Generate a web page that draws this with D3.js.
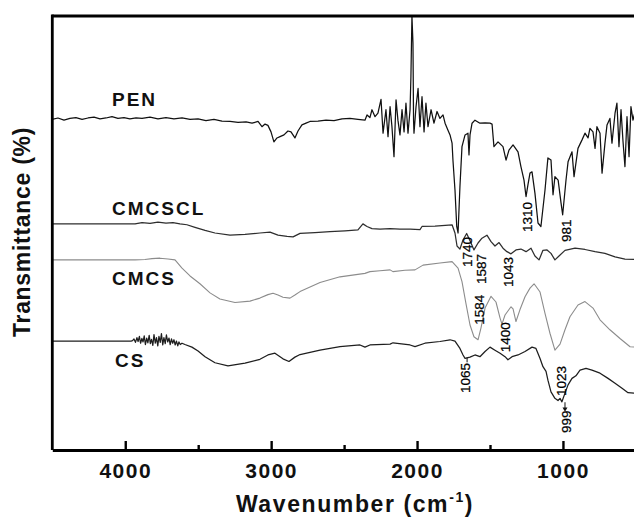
<!DOCTYPE html>
<html>
<head>
<meta charset="utf-8">
<script src="https://cdn.jsdelivr.net/npm/d3@7"></script>
<style>
body { margin: 0; background: #fff; }
svg { display: block; }
</style>
</head>
<body>
<svg id="drawing_region" width="634" height="517"></svg>
<script>
// spectra: [wavenumber, transmittance]
const pen = [[4502,76.2],[4461,76.5],[4420,76.0],[4379,76.4],[4338,76.6],[4296,76.2],[4255,76.5],[4214,76.7],[4173,76.3],[4132,76.5],[4091,76.8],[4050,76.4],[4009,76.6],[3968,76.3],[3926,76.5],[3885,76.4],[3830,76.7],[3776,76.3],[3721,76.6],[3666,76.3],[3611,76.5],[3556,76.2],[3501,76.3],[3447,75.9],[3392,76.2],[3337,75.8],[3282,75.7],[3227,75.5],[3172,75.6],[3131,75.3],[3090,75.7],[3063,74.5],[3042,75.1],[3022,74.8],[3001,73.3],[2981,71.0],[2960,71.9],[2939,72.2],[2912,72.6],[2885,73.5],[2864,73.3],[2837,71.9],[2816,73.5],[2789,74.9],[2761,75.3],[2734,75.7],[2679,75.8],[2624,76.0],[2569,75.9],[2514,76.3],[2460,76.4],[2405,76.2],[2357,76.0],[2343,77.2],[2323,76.6],[2309,78.4],[2288,76.8],[2268,77.6],[2247,80.8],[2233,73.0],[2213,78.4],[2199,72.2],[2185,79.1],[2172,74.5],[2158,67.6],[2144,80.7],[2131,76.0],[2117,72.6],[2103,78.4],[2089,73.3],[2076,79.9],[2062,73.0],[2048,78.4],[2042,86.0],[2035,100],[2028,93.8],[2024,76.0],[2021,73.0],[2007,79.1],[1993,83.3],[1980,74.5],[1966,81.4],[1952,73.3],[1939,79.9],[1925,74.5],[1904,78.4],[1884,75.3],[1863,78.0],[1843,76.4],[1822,77.2],[1808,75.3],[1788,73.7],[1774,72.6],[1760,70.7],[1754,66.8],[1740,59.9],[1728,51.5],[1719,50.0],[1706,60.7],[1692,69.9],[1671,72.6],[1651,73.0],[1644,68.0],[1637,72.6],[1623,75.3],[1603,76.0],[1569,75.3],[1534,75.4],[1500,75.3],[1486,75.1],[1473,69.9],[1445,71.0],[1411,69.9],[1390,66.8],[1370,69.1],[1342,70.3],[1308,68.7],[1288,65.3],[1267,62.2],[1253,58.4],[1240,61.1],[1226,63.8],[1212,64.1],[1192,59.2],[1171,52.3],[1151,51.5],[1123,59.9],[1103,67.3],[1082,66.8],[1068,58.8],[1055,63.0],[1033,62.2],[1013,56.9],[1002,54.2],[979,62.2],[965,66.4],[938,68.7],[924,63.0],[897,69.5],[870,71.4],[849,73.0],[828,71.9],[815,74.1],[794,73.3],[780,69.5],[767,74.5],[746,73.0],[732,63.8],[712,70.7],[698,74.9],[678,76.4],[664,70.7],[643,77.6],[630,79.9],[616,69.9],[602,78.4],[589,71.4],[575,65.3],[561,76.8],[547,67.6],[534,79.1],[520,76.0],[506,77.9]];

const cmcscl = [[4502,52.1],[4242,52.1],[3933,52.1],[3885,52.4],[3830,52.2],[3776,52.5],[3721,52.3],[3673,52.4],[3625,52.1],[3577,51.9],[3522,51.3],[3453,50.6],[3385,50.0],[3282,49.5],[3179,49.7],[3077,50.0],[3008,50.2],[2953,49.5],[2891,49.2],[2850,49.1],[2802,49.9],[2700,50.1],[2597,50.3],[2494,50.5],[2405,50.7],[2371,52.1],[2343,51.5],[2309,51.0],[2254,50.9],[2185,51.0],[2117,50.9],[2048,50.9],[1980,50.8],[1966,51.5],[1877,51.6],[1760,51.9],[1740,50.0],[1726,47.0],[1706,46.3],[1685,48.4],[1660,49.9],[1630,47.7],[1610,46.1],[1582,47.7],[1555,48.8],[1521,49.5],[1493,48.0],[1466,47.0],[1438,47.8],[1411,46.5],[1384,45.7],[1356,45.2],[1322,46.1],[1288,46.3],[1253,45.7],[1219,46.5],[1192,44.7],[1164,43.8],[1137,46.0],[1109,46.1],[1082,45.3],[1055,43.8],[1027,44.7],[986,46.0],[917,46.5],[849,46.2],[780,45.7],[712,45.3],[643,44.5],[575,44.0],[506,43.9]];

const cmcs = [[4502,43.8],[4173,43.8],[3933,43.8],[3865,43.9],[3817,44.1],[3762,44.2],[3707,44.0],[3659,43.8],[3611,41.9],[3556,40.1],[3488,38.3],[3419,36.2],[3351,34.8],[3248,34.0],[3145,34.3],[3077,35.0],[3022,35.8],[2987,36.1],[2953,35.7],[2919,35.2],[2871,35.0],[2837,35.7],[2802,36.5],[2665,38.6],[2528,39.9],[2357,40.7],[2323,41.1],[2254,41.3],[2185,41.5],[2165,41.1],[2083,41.4],[2014,41.5],[1959,42.6],[1843,43.1],[1760,43.4],[1719,41.9],[1692,38.8],[1665,33.8],[1637,28.8],[1610,26.1],[1582,25.4],[1562,28.1],[1534,32.7],[1493,35.4],[1459,34.1],[1431,30.4],[1418,29.0],[1397,31.1],[1356,33.0],[1342,32.5],[1322,29.6],[1295,32.3],[1260,35.3],[1226,37.3],[1198,38.3],[1157,36.4],[1123,31.5],[1089,26.9],[1055,23.0],[1020,24.4],[986,27.7],[952,30.7],[897,33.4],[849,34.2],[794,32.7],[746,30.0],[678,27.7],[609,25.7],[540,23.8],[506,23.7]];

const cs = [[4502,25.1],[4242,25.1],[4036,25.1],[3960,25.1],[3950,25.2],[3940,25.6],[3930,24.8],[3920,25.9],[3912,25.0],[3903,26.2],[3895,24.6],[3886,25.7],[3878,24.9],[3870,26.3],[3862,24.3],[3853,25.8],[3845,24.7],[3836,26.4],[3828,24.5],[3820,25.5],[3811,24.1],[3803,26.6],[3794,24.6],[3786,25.9],[3777,24.0],[3769,26.2],[3760,24.8],[3752,26.8],[3743,24.2],[3735,25.9],[3726,24.5],[3718,26.5],[3709,24.9],[3700,25.8],[3692,24.3],[3683,25.6],[3675,24.6],[3666,25.4],[3658,24.2],[3649,25.1],[3640,24.0],[3632,24.9],[3623,24.3],[3611,24.6],[3591,24.3],[3543,23.7],[3501,22.8],[3453,21.5],[3385,20.1],[3296,19.4],[3179,20.0],[3077,20.9],[3022,21.9],[2974,22.3],[2919,21.0],[2878,20.4],[2837,21.4],[2802,22.0],[2665,23.0],[2528,23.8],[2391,24.2],[2357,23.7],[2323,24.2],[2185,24.4],[2165,24.7],[2048,24.2],[2014,23.8],[1946,24.6],[1843,25.0],[1774,25.4],[1740,25.1],[1706,23.4],[1685,21.9],[1671,21.1],[1637,21.4],[1603,21.9],[1569,21.5],[1534,22.7],[1500,23.7],[1466,23.0],[1431,22.3],[1397,21.5],[1377,20.8],[1349,21.5],[1308,21.9],[1260,22.7],[1212,23.7],[1185,23.4],[1157,21.1],[1137,19.2],[1116,18.1],[1103,16.1],[1082,13.4],[1055,11.9],[1034,11.4],[1020,11.9],[1007,11.1],[986,13.1],[965,15.0],[938,16.5],[911,17.1],[883,18.4],[842,18.8],[801,18.4],[746,17.7],[691,16.5],[643,15.4],[595,14.2],[554,13.2],[506,13.1]];

const seriesNames = ["PEN", "CMCSCL", "CMCS", "CS"];
const seriesData = [pen, cmcscl, cmcs, cs];
const seriesColors = ["#111", "#2e2e2e", "#8c8c8c", "#1e1e1e"];
// where each name is written: [wavenumber, transmittance of the baseline]
const nameAnchors = [[4091, 79.3], [4091, 54.2], [4091, 38.0], [4070, 19.1]];

const majorTicks = [4000, 3000, 2000, 1000];
const minorTicks = [3500, 2500, 1500];

// peak labels: text, wavenumber and transmittance of the label centre
const peakLabels = ["1310", "981", "1740", "1587", "1043", "1584", "1400", "1065", "1023", "999"];
const peakX = [1246, 979, 1654, 1555, 1370, 1569, 1397, 1671, 1007, 979];
const peakY = [53.7, 50.5, 45.6, 41.7, 41.0, 32.3, 26.0, 16.6, 15.9, 6.5];

const width = 634, height = 517;
const margin = { top: 16, left: 52.3, bottom: 450 };

const svg = d3.select("#drawing_region");

const x = d3.scaleLinear().domain([4500, 500]).range([margin.left, 635.9]);
const y = d3.scaleLinear().domain([0, 100]).range([margin.bottom, margin.top]);

svg.append("clipPath").attr("id", "plot_clip")
    .append("rect")
    .attr("x", margin.left).attr("y", margin.top)
    .attr("width", width - margin.left).attr("height", margin.bottom - margin.top);

const line = d3.line().x(d => x(d[0])).y(d => y(d[1]));

const plot = svg.append("g").attr("clip-path", "url(#plot_clip)");
plot.selectAll("path")
    .data(seriesData)
    .join("path")
    .attr("d", line)
    .attr("fill", "none")
    .attr("stroke", (d, i) => seriesColors[i])
    .attr("stroke-width", (d, i) => i == 2 ? 1.1 : 1.25)
    .attr("stroke-linejoin", "round");

// series names
svg.selectAll(".sname")
    .data(seriesNames)
    .join("text")
    .attr("class", "sname")
    .attr("x", (d, i) => x(nameAnchors[i][0]))
    .attr("y", (d, i) => y(nameAnchors[i][1]))
    .attr("font-family", "Liberation Sans, Arial, sans-serif")
    .attr("font-weight", "bold")
    .attr("font-size", 19)
    .attr("letter-spacing", 2)
    .attr("fill", "#111")
    .text(d => d);

// peak labels, written vertically
svg.selectAll(".peak")
    .data(peakLabels)
    .join("text")
    .attr("class", "peak")
    .attr("transform", (d, i) => `translate(${x(peakX[i])},${y(peakY[i])}) rotate(-90)`)
    .attr("text-anchor", "middle")
    .attr("dominant-baseline", "central")
    .attr("font-family", "Liberation Sans, Arial, sans-serif")
    .attr("font-size", 13.5)
    .attr("stroke", "#000")
    .attr("stroke-width", 0.25)
    .attr("fill", "#000")
    .text(d => d);

// little leader for 1065 and arrow for 999
svg.append("line")
    .attr("x1", x(1657)).attr("x2", x(1657))
    .attr("y1", y(21.3)).attr("y2", y(20.2))
    .attr("stroke", "#111").attr("stroke-width", 1);
svg.append("line")
    .attr("x1", x(986)).attr("x2", x(986))
    .attr("y1", y(11.0)).attr("y2", y(9.6))
    .attr("stroke", "#111").attr("stroke-width", 1);
svg.append("path")
    .attr("d", `M${x(986) - 2.5},${y(9.8)} L${x(986) + 2.5},${y(9.8)} L${x(986)},${y(8.8)} Z`)
    .attr("fill", "#111");

// frame
const frame = svg.append("g").attr("stroke", "#000").attr("stroke-width", 2.8).attr("fill", "none");
frame.append("line")
    .attr("x1", margin.left).attr("x2", margin.left)
    .attr("y1", margin.top - 1.4).attr("y2", margin.bottom);
frame.append("line")
    .attr("x1", margin.left).attr("x2", width)
    .attr("y1", margin.top).attr("y2", margin.top);

// bottom axis: major ticks with labels, minor ticks without
const xaxis = d3.axisBottom(x)
    .tickValues(majorTicks)
    .tickSize(-9)
    .tickSizeOuter(0)
    .tickPadding(13)
    .tickFormat(d3.format("d"));

const xaxis_group = svg.append("g")
    .attr("transform", `translate(0, ${margin.bottom})`)
    .call(xaxis);
xaxis_group.select(".domain").attr("stroke-width", 2.8);
xaxis_group.selectAll(".tick line").attr("stroke-width", 2.4);
xaxis_group.selectAll(".tick text")
    .attr("font-family", "Liberation Sans, Arial, sans-serif")
    .attr("font-weight", "bold")
    .attr("font-size", 21)
    .attr("letter-spacing", 1.5)
    .attr("fill", "#111");

const xminor = d3.axisBottom(x)
    .tickValues(minorTicks)
    .tickSize(-5)
    .tickSizeOuter(0)
    .tickFormat("");
const xminor_group = svg.append("g")
    .attr("transform", `translate(0, ${margin.bottom})`)
    .call(xminor);
xminor_group.select(".domain").remove();
xminor_group.selectAll(".tick line").attr("stroke-width", 2.4);

// axis titles
const xtitle = svg.append("text")
    .attr("x", 355)
    .attr("y", 512)
    .attr("text-anchor", "middle")
    .attr("font-family", "Liberation Sans, Arial, sans-serif")
    .attr("font-weight", "bold")
    .attr("font-size", 23)
    .attr("letter-spacing", 1.6)
    .attr("fill", "#111");
xtitle.append("tspan").text("Wavenumber (cm");
xtitle.append("tspan").attr("font-size", 14).attr("dy", -10).text("-1");
xtitle.append("tspan").attr("dy", 10).text(")");

svg.append("text")
    .attr("transform", "translate(30, 232) rotate(-90)")
    .attr("text-anchor", "middle")
    .attr("font-family", "Liberation Sans, Arial, sans-serif")
    .attr("font-weight", "bold")
    .attr("font-size", 23)
    .attr("letter-spacing", 0.7)
    .attr("fill", "#111")
    .text("Transmittance (%)");
</script>
</body>
</html>
